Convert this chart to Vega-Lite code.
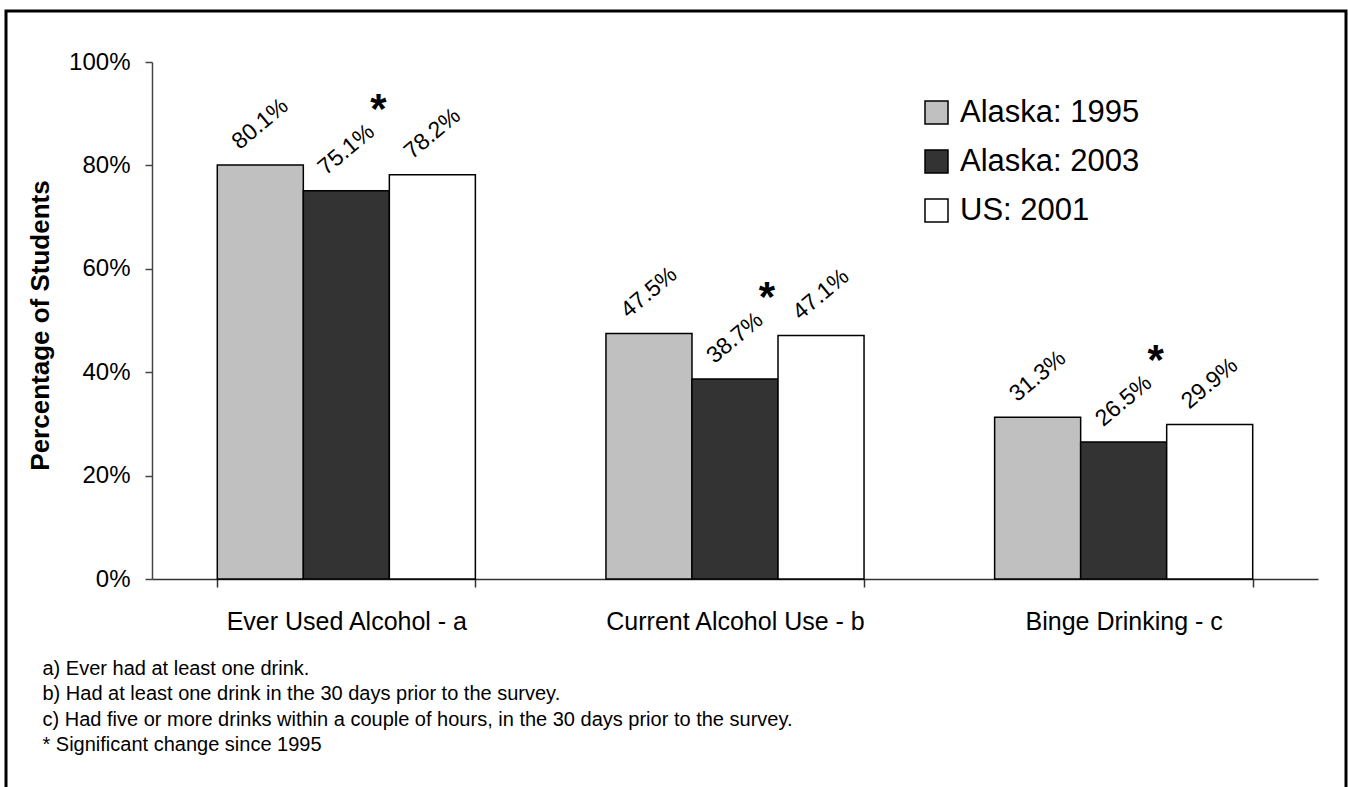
{
  "$schema": "https://vega.github.io/schema/vega-lite/v6.json",
  "width": 1340,
  "height": 780,
  "autosize": {"type": "none"},
  "padding": {"left": 6, "top": 11, "right": 2, "bottom": 0},
  "background": "white",
  "config": {
    "font": "Liberation Sans",
    "view": {"stroke": "black", "strokeWidth": 3}
  },
  "data": {
    "values": [
      {"measure": "Ever Used Alcohol - a", "series": "Alaska: 1995", "pct": 80.1, "label": "80.1%", "star": ""},
      {"measure": "Ever Used Alcohol - a", "series": "Alaska: 2003", "pct": 75.1, "label": "75.1%", "star": "*"},
      {"measure": "Ever Used Alcohol - a", "series": "US: 2001", "pct": 78.2, "label": "78.2%", "star": ""},
      {"measure": "Current Alcohol Use - b", "series": "Alaska: 1995", "pct": 47.5, "label": "47.5%", "star": ""},
      {"measure": "Current Alcohol Use - b", "series": "Alaska: 2003", "pct": 38.7, "label": "38.7%", "star": "*"},
      {"measure": "Current Alcohol Use - b", "series": "US: 2001", "pct": 47.1, "label": "47.1%", "star": ""},
      {"measure": "Binge Drinking - c", "series": "Alaska: 1995", "pct": 31.3, "label": "31.3%", "star": ""},
      {"measure": "Binge Drinking - c", "series": "Alaska: 2003", "pct": 26.5, "label": "26.5%", "star": "*"},
      {"measure": "Binge Drinking - c", "series": "US: 2001", "pct": 29.9, "label": "29.9%", "star": ""}
    ]
  },
  "encoding": {
    "x": {
      "field": "measure",
      "type": "nominal",
      "sort": ["Ever Used Alcohol - a", "Current Alcohol Use - b", "Binge Drinking - c"],
      "scale": {"range": [146, 1312], "paddingInner": 0.336, "paddingOuter": 0.168},
      "axis": {
        "orient": "bottom",
        "offset": -212,
        "domainColor": "#333333",
        "domainWidth": 1.5,
        "tickColor": "#333333",
        "tickWidth": 1.5,
        "tickSize": 8,
        "tickBand": "extent",
        "labelFontSize": 25,
        "labelColor": "black",
        "labelPadding": 22,
        "labelAngle": 0,
        "labelLimit": 600,
        "title": [
          "a) Ever had at least one drink.",
          "b) Had at least one drink in the 30 days prior to the survey.",
          "c) Had five or more drinks within a couple of hours, in the 30 days prior to the survey.",
          "* Significant  change  since  1995"
        ],
        "titleFont": "Liberation Sans Narrow, Liberation Sans",
        "titleFontSize": 20,
        "titleFontWeight": "normal",
        "titleColor": "black",
        "titleAlign": "left",
        "titleAnchor": "start",
        "titleBaseline": "alphabetic",
        "titleAngle": 0,
        "titleX": 36,
        "titleY": 95,
        "titleLineHeight": 25.5,
        "titleLimit": 1300
      }
    },
    "xOffset": {
      "field": "series",
      "type": "nominal",
      "sort": ["Alaska: 1995", "Alaska: 2003", "US: 2001"],
      "scale": {"paddingInner": 0, "paddingOuter": 0}
    },
    "y": {
      "field": "pct",
      "type": "quantitative",
      "scale": {"domain": [0, 100], "range": [568, 51], "nice": false},
      "axis": {
        "orient": "left",
        "offset": -146,
        "values": [0, 20, 40, 60, 80, 100],
        "labelExpr": "datum.value + '%'",
        "grid": false,
        "domainColor": "#444444",
        "domainWidth": 1.5,
        "tickColor": "#444444",
        "tickWidth": 1.5,
        "tickSize": 7,
        "labelFontSize": 24,
        "labelPadding": 15,
        "labelColor": "black",
        "title": "Percentage of Students",
        "titleFontSize": 26,
        "titleFontWeight": "bold",
        "titleColor": "black",
        "titleAngle": 270,
        "titleAlign": "center",
        "titleBaseline": "middle",
        "titleX": -112,
        "titleY": 314,
        "titleLimit": 600
      }
    }
  },
  "layer": [
    {
      "mark": {"type": "bar", "stroke": "black", "strokeWidth": 1.5},
      "encoding": {
        "fill": {
          "field": "series",
          "type": "nominal",
          "sort": ["Alaska: 1995", "Alaska: 2003", "US: 2001"],
          "scale": {"domain": ["Alaska: 1995", "Alaska: 2003", "US: 2001"], "range": ["#c0c0c0", "#333333", "#ffffff"]},
          "legend": {
            "orient": "none",
            "legendX": 915,
            "legendY": 86,
            "title": null,
            "padding": 0,
            "symbolType": "square",
            "symbolSize": 529,
            "symbolStrokeColor": "black",
            "symbolStrokeWidth": 1.5,
            "labelFontSize": 31,
            "labelColor": "black",
            "labelOffset": 8,
            "labelLimit": 400,
            "rowPadding": 17
          }
        }
      }
    },
    {
      "mark": {"type": "text", "angle": -40, "align": "center", "baseline": "middle", "fontSize": 23, "color": "black", "yOffset": -41},
      "encoding": {"text": {"field": "label"}}
    },
    {
      "transform": [{"filter": "datum.star == '*'"}],
      "mark": {"type": "text", "align": "center", "baseline": "alphabetic", "fontSize": 42, "fontWeight": "bold", "color": "black", "dx": 32, "dy": -68},
      "encoding": {"text": {"field": "star"}}
    }
  ]
}
